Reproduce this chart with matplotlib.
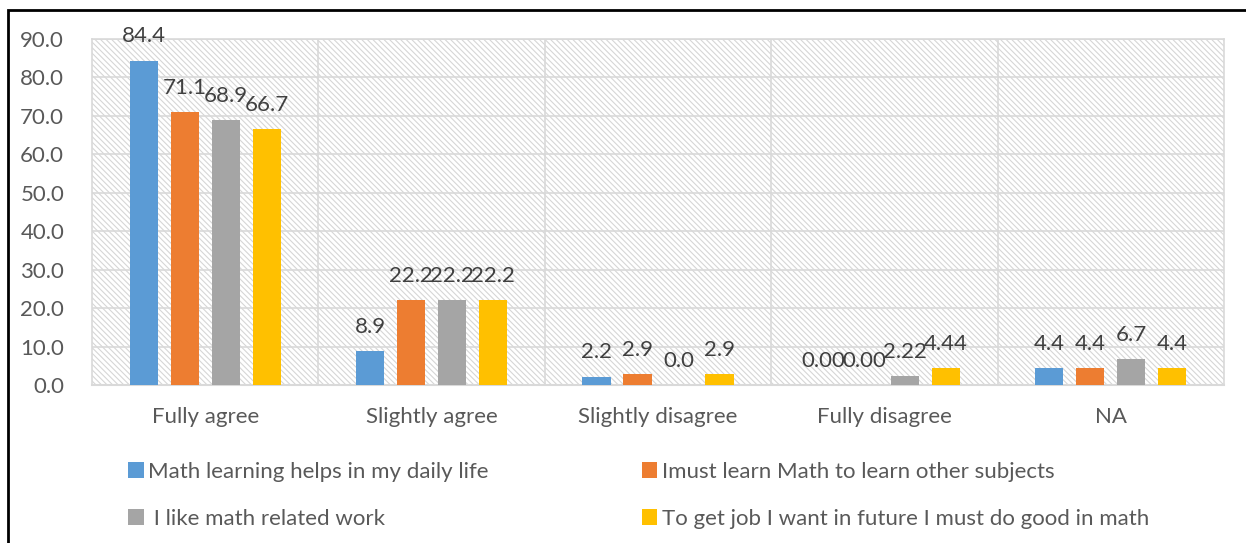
import matplotlib
matplotlib.use("Agg")
import matplotlib.pyplot as plt
from matplotlib.patches import Rectangle, Patch
import numpy as np

categories = ["Fully agree", "Slightly agree", "Slightly disagree", "Fully disagree", "NA"]
series_names = ["Math learning helps in my daily life",
                "Imust learn Math to learn other subjects",
                " I like math related work",
                "To get job I want in future I must do good in math"]
s1 = [84.4, 8.9, 2.2, 0.00, 4.4]
s2 = [71.1, 22.2, 2.9, 0.00, 4.4]
s3 = [68.9, 22.2, 0.0, 2.22, 6.7]
s4 = [66.7, 22.2, 2.9, 4.44, 4.4]
labels1 = ["84.4", "8.9", "2.2", "0.00", "4.4"]
labels2 = ["71.1", "22.2", "2.9", "0.00", "4.4"]
labels3 = ["68.9", "22.2", "0.0", "2.22", "6.7"]
labels4 = ["66.7", "22.2", "2.9", "4.44", "4.4"]
yticks = [0, 10, 20, 30, 40, 50, 60, 70, 80, 90]

colors = ["#5B9BD5", "#ED7D31", "#A5A5A5", "#FFC000"]
txt = "#595959"
grid = "#D9D9D9"

plt.rcParams['font.family'] = ['Lato', 'DejaVu Sans']
plt.rcParams['hatch.linewidth'] = 0.8
plt.rcParams['hatch.color'] = "#D6D6D6"

W, H = 1246, 543
fig = plt.figure(figsize=(W/100, H/100), dpi=100)
ax = fig.add_axes([92/W, 1-385/H, (1224-92)/W, (385-39)/H])

# hatched background
bg = Rectangle((0, 0), 1, 1, transform=ax.transAxes, facecolor="white",
               edgecolor="#D6D6D6", hatch="\\\\\\\\\\\\", linewidth=0, zorder=0)
ax.add_patch(bg)

x = np.arange(len(categories))
step = 0.181
width = 0.124
all_s = [s1, s2, s3, s4]
all_l = [labels1, labels2, labels3, labels4]
for i, (vals, labs) in enumerate(zip(all_s, all_l)):
    xs = x + (i - 1.5) * step
    ax.bar(xs, vals, width, color=colors[i], zorder=3, label=series_names[i])
    for xx, v, lab in zip(xs, vals, labs):
        ax.annotate(lab, (xx, v), xytext=(0, 13), textcoords="offset points",
                    ha="center", va="baseline", fontsize=16, color="#404040", zorder=4)

ax.set_xlim(-0.5, len(categories) - 0.5)
ax.set_ylim(0, 90)
ax.set_yticks(yticks)
ax.set_yticklabels([f"{t:.1f}" for t in yticks])
ax.set_xticks(x)
ax.set_xticklabels(categories)
ax.tick_params(axis="both", length=0, labelsize=16, labelcolor=txt)
ax.tick_params(axis="y", pad=20)
ax.tick_params(axis="x", pad=16)

for t in yticks:
    ax.axhline(t, color=grid, lw=1.2, zorder=1)
for b in np.arange(0.5, len(categories) - 0.5, 1):
    ax.axvline(b, color=grid, lw=1.2, zorder=1)
for sp in ["top", "right", "left"]:
    ax.spines[sp].set_color(grid)
    ax.spines[sp].set_linewidth(1.2)
ax.spines["bottom"].set_color(grid)
ax.spines["bottom"].set_linewidth(1.5)

# legend in row-major order: (s1, s2) / (s3, s4) -> column-major handles
order = [0, 2, 1, 3]
handles = [Patch(facecolor=colors[i]) for i in order]
names = [series_names[i] for i in order]
leg = fig.legend(handles, names, ncol=2, loc="upper left",
                 bbox_to_anchor=(108/W, 1-442/H), frameon=False, fontsize=16,
                 labelcolor=txt, handlelength=0.7, handleheight=0.7,
                 handletextpad=0.2, columnspacing=6.9, labelspacing=1.2)

# outer black border
fig.patches.append(Rectangle((8/W, -0.1), 2, 1.1 - 10/H, transform=fig.transFigure,
                             fill=False, edgecolor="black", linewidth=2, zorder=10))

fig.savefig("out.png", dpi=100)
